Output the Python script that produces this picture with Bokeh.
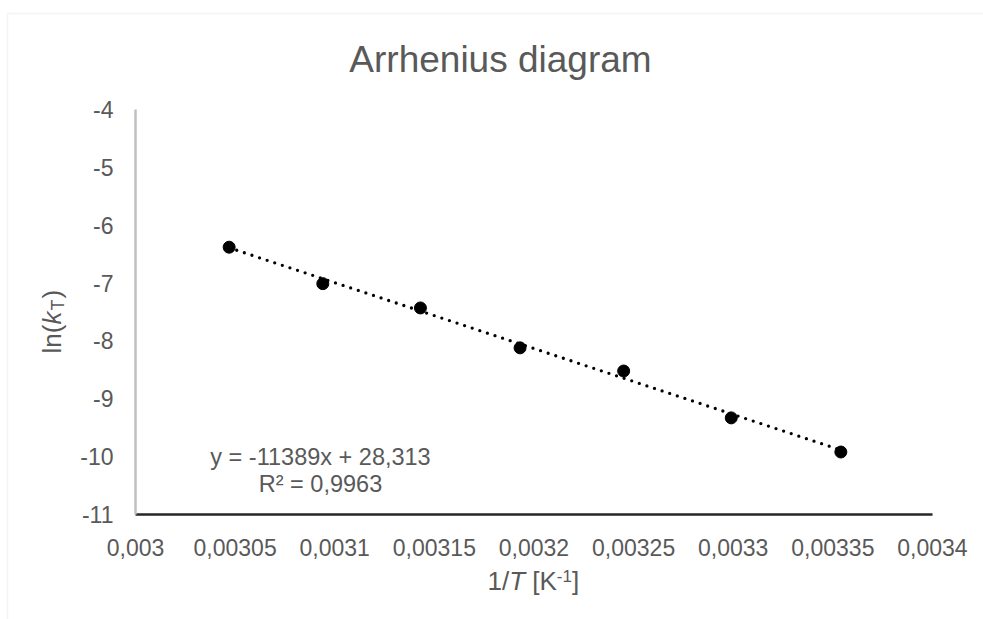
import math

from bokeh.embed import file_html
from bokeh.models import BoxAnnotation, ColumnDataSource, FixedTicker, Label, Range1d
from bokeh.plotting import figure
from bokeh.resources import INLINE

# Arrhenius data: inverse temperature [1/K] and ln of the rate constant
inv_T = [0.003047, 0.003094, 0.003143, 0.003193, 0.003245, 0.003299, 0.003354]
ln_k = [-6.38, -7.01, -7.43, -8.12, -8.52, -9.33, -9.92]

# Linear trendline y = slope * x + intercept
fit_slope = -11389
fit_intercept = 28.313
fit_r2 = 0.9963

x_ticks = [0.003, 0.00305, 0.0031, 0.00315, 0.0032, 0.00325, 0.0033, 0.00335, 0.0034]
x_tick_labels = ["0,003", "0,00305", "0,0031", "0,00315", "0,0032",
                 "0,00325", "0,0033", "0,00335", "0,0034"]
y_ticks = [-4, -5, -6, -7, -8, -9, -10, -11]
y_tick_labels = ["-4", "-5", "-6", "-7", "-8", "-9", "-10", "-11"]

X_MIN, X_MAX = 0.003, 0.0034
Y_MIN, Y_MAX = -11, -4

# canvas and plot-area geometry (pixels)
W, H = 983, 619
AREA_L, AREA_R, AREA_T, AREA_B = 135, 932, 109, 514
FONT = "Liberation Sans"
GREY_TEXT = "#595959"

# the drawing frame spans the whole canvas; the data ranges are widened so
# that the axis bounds land on the plot-area edges
kx = (X_MAX - X_MIN) / (AREA_R - AREA_L)
ky = (Y_MAX - Y_MIN) / (AREA_B - AREA_T)
x_range = Range1d(X_MIN - AREA_L * kx, X_MAX + (W - AREA_R) * kx)
y_range = Range1d(Y_MIN - (H - AREA_B) * ky, Y_MAX + AREA_T * ky)

p = figure(width=W, height=H, output_backend="svg", toolbar_location=None,
           x_range=x_range, y_range=y_range,
           min_border_left=0, min_border_right=0, min_border_top=0, min_border_bottom=0)
p.outline_line_color = None
p.xgrid.visible = False
p.ygrid.visible = False
p.background_fill_color = "white"
p.border_fill_color = "white"


def sy(cy):
    # canvas y (top-down) -> screen y (bottom-up)
    return H - cy


# axes, pinned to the plot-area edges
xa = p.xaxis[0]
xa.fixed_location = Y_MIN
xa.bounds = (X_MIN, X_MAX)
xa.ticker = FixedTicker(ticks=x_ticks)
xa.major_label_overrides = dict(zip(x_ticks, x_tick_labels))
xa.axis_line_color = "#262626"
xa.axis_line_width = 2.5
xa.major_tick_line_color = None
xa.minor_tick_line_color = None
xa.major_label_standoff = 18
xa.major_label_text_font = FONT
xa.major_label_text_font_size = "23px"
xa.major_label_text_color = GREY_TEXT

ya = p.yaxis[0]
ya.fixed_location = X_MIN
ya.bounds = (Y_MIN, Y_MAX)
ya.ticker = FixedTicker(ticks=y_ticks)
ya.major_label_overrides = dict(zip(y_ticks, y_tick_labels))
ya.axis_line_color = "#bfbfbf"
ya.axis_line_width = 2.5
ya.major_tick_line_color = None
ya.minor_tick_line_color = None
ya.major_label_standoff = 16
ya.major_label_text_font = FONT
ya.major_label_text_font_size = "23px"
ya.major_label_text_color = GREY_TEXT

# chart area border (top and left edges visible)
p.add_layout(BoxAnnotation(left=7, right=W + 20, top=sy(13), bottom=-20,
                           left_units="screen", right_units="screen",
                           top_units="screen", bottom_units="screen",
                           fill_alpha=0, line_color="#d9d9d9", line_width=1.5))

# dotted trendline over the range of the data
x_fit = [min(inv_T), max(inv_T)]
y_fit = [fit_slope * x + fit_intercept for x in x_fit]
p.line(x_fit, y_fit, line_color="black", line_width=3.3, line_dash="0 8", line_cap="round")

# data points
src = ColumnDataSource(data=dict(x=inv_T, y=ln_k))
p.scatter("x", "y", source=src, size=12, fill_color="black", line_color="black")


def text_at(x, y, txt, size, align="left", style="normal", angle=0.0):
    p.add_layout(Label(x=x, y=sy(y), x_units="screen", y_units="screen",
                       text=txt, text_align=align, text_baseline="middle",
                       text_font=FONT, text_font_size=f"{size}px", text_font_style=style,
                       text_color=GREY_TEXT, angle=angle))


# title
text_at(500, 59, "Arrhenius diagram", 37, align="center")

# trendline equation
eq_text = "y = {}x + {}".format(fit_slope, str(fit_intercept).replace(".", ","))
r2_text = "R² = {}".format(str(fit_r2).replace(".", ","))
text_at(320, 456, eq_text, 23.5, align="center")
text_at(320, 483.5, r2_text, 23.5, align="center")

# x axis title: 1/T [K^-1]
AX = 26
SUP = 17
bx, by = 487, 580
text_at(bx, by, "1/", AX)
bx += 0.834 * AX
text_at(bx, by, "T", AX, style="italic")
bx += (0.611 + 0.278) * AX
text_at(bx, by, "[K", AX)
bx += 0.945 * AX
text_at(bx, by - 5, "-1", SUP)
bx += 0.889 * SUP
text_at(bx, by, "]", AX)

# y axis title: ln(k_T), reading upwards
up = math.pi / 2
SUB = 18
lx, ly = 51, 353
text_at(lx, ly, "ln(", AX, angle=up)
ly -= 1.111 * AX
text_at(lx, ly, "k", AX, style="italic", angle=up)
ly -= 0.5 * AX + 1
text_at(lx + 6, ly, "T", SUB, angle=up)
ly -= 0.611 * SUB + 1
text_at(lx, ly, ")", AX, angle=up)

open("out.html", "w").write(file_html(p, INLINE))
